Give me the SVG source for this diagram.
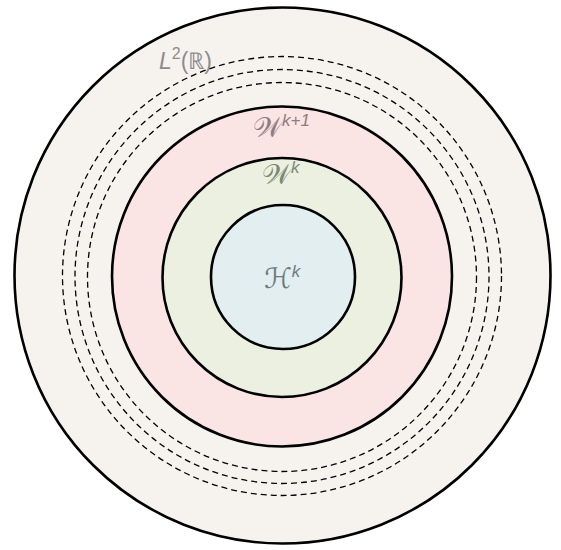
<svg xmlns="http://www.w3.org/2000/svg" width="561" height="550" viewBox="0 0 561 550">
<style>
.ring{stroke:#000;stroke-width:2.6}
.dash{fill:none;stroke:#000;stroke-width:1.3;stroke-dasharray:6 4}
.lbl{font-family:"DejaVu Sans","Liberation Sans",sans-serif;font-size:28px}
.sup{font-family:"Liberation Sans",sans-serif;font-size:17px;font-style:italic}
</style>
<rect width="561" height="550" fill="#fff"/>
<g id="L2">
<circle class="ring" cx="282.5" cy="275.5" r="268" fill="#f6f3ef"/>
<text x="159" y="69" fill="#8c8c8c" font-family="Liberation Sans, sans-serif" font-size="23"><tspan font-style="italic">L</tspan><tspan dy="-10" font-size="16">2</tspan><tspan dy="10">(ℝ)</tspan></text>
</g>
<g id="connectors">
<circle class="dash" cx="282" cy="276" r="219.5"/>
<circle class="dash" cx="282" cy="276.5" r="207"/>
<circle class="dash" cx="282" cy="277" r="194.5"/>
</g>
<g id="Wk1">
<circle class="ring" cx="282" cy="276.5" r="170" fill="#fae4e4"/>
<text class="lbl" x="253" y="137" fill="#8e7c7e">𝒲<tspan class="sup" dy="-11">k+1</tspan></text>
</g>
<g id="Wk">
<circle class="ring" cx="282" cy="277.5" r="119.5" fill="#ecf0e1"/>
<text class="lbl" x="262" y="184" fill="#7a8a72">𝒲<tspan class="sup" dy="-11">k</tspan></text>
</g>
<g id="Hk">
<circle class="ring" cx="283" cy="277" r="72" fill="#e2eef0"/>
<text class="lbl" x="264" y="288" fill="#6e7b80">ℋ<tspan class="sup" dy="-11">k</tspan></text>
</g>
</svg>
